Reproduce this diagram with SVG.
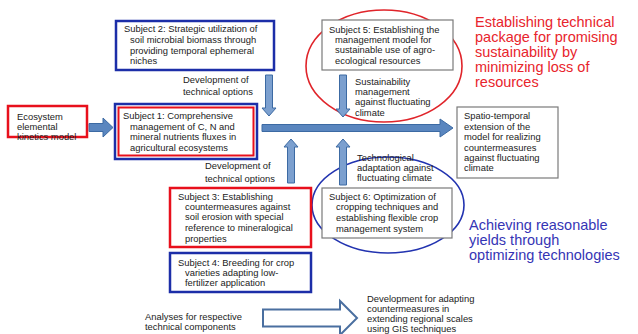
<svg xmlns="http://www.w3.org/2000/svg" width="638" height="334" viewBox="0 0 638 334">
<defs>
<style>
text{font-family:"Liberation Sans",Arial,sans-serif;font-size:9.4px;fill:#222;}
.big{font-size:14.5px;}
.red{fill:#e8242c;}
.blu{fill:#3535b5;}
.rbox{fill:#fff;stroke:#e8101c;stroke-width:2.5;}
.bbox{fill:#fff;stroke:#1c2ea8;stroke-width:2.5;}
.gbox{fill:#fff;stroke:#7a7a7a;stroke-width:1.2;}
.arr{fill:#5a86bf;stroke:#3c6aa3;stroke-width:1;}
.varr{fill:#7ca0cf;stroke:#3c6aa3;stroke-width:1;}
</style>
</defs>
<rect width="638" height="334" fill="#fff"/>

<g id="ellipses" fill="none" stroke-width="1.6">
<ellipse cx="384" cy="66" rx="78" ry="56" stroke="#e0242a"/>
<ellipse cx="388" cy="205" rx="76" ry="48" stroke="#2233b0"/>
</g>

<g id="connectors">
<path class="arr" d="M89,123.5 H103 V118 L113,127.5 L103,137 V131.5 H89 Z"/>
<path class="arr" d="M262,124.5 H440 V119 L453,128 L440,137 V131.5 H262 Z"/>
<path class="varr" d="M265.5,75 H272.5 V108 H276 L269,116 L262,108 H265.5 Z"/>
<path class="varr" d="M339.5,75 H346.5 V109 H350 L343,117 L336,109 H339.5 Z"/>
<path class="varr" d="M287.5,183 H294.5 V147 H298 L291,139 L284,147 H287.5 Z"/>
<path class="varr" d="M339.5,185 H346.5 V147 H350 L343,139 L336,147 H339.5 Z"/>
<path d="M263,309.5 H340 V301 L357,318 L340,335 V326.5 H263 Z" fill="#fff" stroke="#4a6fa0" stroke-width="2"/>
</g>

<g id="ecosystem">
<rect class="rbox" x="8" y="106" width="79" height="31"/>
<text x="17" y="120">Ecosystem</text>
<text x="17" y="130">elemental</text>
<text x="17" y="140">kinetics model</text>
</g>

<g id="subject2">
<rect class="bbox" x="116" y="21" width="158" height="49"/>
<text x="124" y="32">Subject 2: Strategic utilization of</text>
<text x="130" y="43">soil microbial biomass through</text>
<text x="130" y="54">providing temporal ephemeral</text>
<text x="130" y="64">niches</text>
</g>

<g id="label-dev1">
<text x="183" y="83">Development of</text>
<text x="183" y="95">technical options</text>
</g>

<g id="subject1">
<rect class="bbox" x="115" y="104" width="142" height="55"/>
<rect x="118.5" y="107.5" width="135" height="48" fill="none" stroke="#e8101c" stroke-width="2"/>
<text x="123" y="119">Subject 1: Comprehensive</text>
<text x="130" y="130">management of C, N and</text>
<text x="130" y="140">mineral nutrients fluxes in</text>
<text x="130" y="151">agricultural ecosystems</text>
</g>

<g id="label-dev2">
<text x="205" y="169">Development of</text>
<text x="205" y="182">technical options</text>
</g>

<g id="subject5">
<rect class="gbox" x="322" y="20" width="131" height="50"/>
<text x="329" y="33">Subject 5: Establishing the</text>
<text x="335" y="43">management model for</text>
<text x="335" y="53">sustainable use of agro-</text>
<text x="335" y="64">ecological resources</text>
</g>

<g id="label-sustain">
<text x="355" y="85">Sustainability</text>
<text x="355" y="95">management</text>
<text x="355" y="105">against fluctuating</text>
<text x="355" y="116">climate</text>
</g>

<g id="goal-red">
<text class="big red" x="475" y="27">Establishing technical</text>
<text class="big red" x="475" y="42">package for promising</text>
<text class="big red" x="475" y="57">sustainability by</text>
<text class="big red" x="475" y="72">minimizing loss of</text>
<text class="big red" x="475" y="87">resources</text>
</g>

<g id="spatio">
<rect class="gbox" x="457" y="107" width="101" height="71"/>
<text x="464" y="119">Spatio-temporal</text>
<text x="464" y="130">extension of the</text>
<text x="464" y="140">model for realizing</text>
<text x="464" y="151">countermeasures</text>
<text x="464" y="161">against fluctuating</text>
<text x="464" y="171">climate</text>
</g>

<g id="label-tech">
<text x="357" y="161">Technological</text>
<text x="357" y="171">adaptation against</text>
<text x="357" y="181">fluctuating climate</text>
</g>

<g id="subject3">
<rect class="rbox" x="170" y="188" width="141" height="59"/>
<text x="178" y="200">Subject 3: Establishing</text>
<text x="185" y="210">countermeasures against</text>
<text x="185" y="220">soil erosion with special</text>
<text x="185" y="231">reference to mineralogical</text>
<text x="185" y="242">properties</text>
</g>

<g id="subject4">
<rect class="bbox" x="170" y="253" width="141" height="39"/>
<text x="178" y="266">Subject 4: Breeding for crop</text>
<text x="185" y="276">varieties adapting low-</text>
<text x="185" y="286">fertilizer application</text>
</g>

<g id="subject6">
<rect class="gbox" x="322" y="188" width="130" height="50"/>
<text x="329" y="200">Subject 6: Optimization of</text>
<text x="336" y="210">cropping techniques and</text>
<text x="336" y="221">establishing flexible crop</text>
<text x="336" y="232">management system</text>
</g>

<g id="goal-blue">
<text class="big blu" x="469" y="230">Achieving reasonable</text>
<text class="big blu" x="469" y="245">yields through</text>
<text class="big blu" x="469" y="260">optimizing technologies</text>
</g>

<g id="label-analyses">
<text x="145" y="320">Analyses for respective</text>
<text x="145" y="330">technical components</text>
</g>

<g id="label-regional">
<text x="367" y="302">Development for adapting</text>
<text x="367" y="312">countermeasures in</text>
<text x="367" y="322">extending regional scales</text>
<text x="367" y="332">using GIS techniques</text>
</g>
</svg>
